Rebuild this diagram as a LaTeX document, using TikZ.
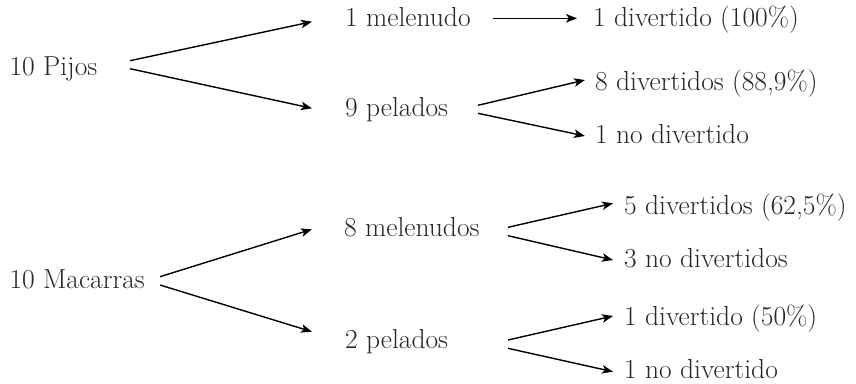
\documentclass[tikz,border=0pt]{standalone}
\usepackage{fontspec}
\usetikzlibrary{arrows.meta,calc}
\begin{document}
\begin{tikzpicture}[x=1pt,y=-1pt,
  lbl/.style={anchor=base west,inner sep=0pt,font=\fontsize{27.5}{32}\selectfont,text=black!85},
  arr/.style={line width=1.4pt,-{Stealth[length=11pt,width=8.5pt,inset=2.8pt]}}]
\useasboundingbox (0,0) rectangle (856,383);
% nodes
\node[lbl] (pijos) at (9.3,75) {10 Pijos};
\node[lbl] (mel1) at (345,26) {1 melenudo};
\node[lbl] (pel9) at (345,116.7) {9 pelados};
\node[lbl] (div1) at (593,26) {1 divertido (100\%)};
\node[lbl] (div8) at (595,90.7) {8 divertidos (88,9\%)};
\node[lbl] (nodiv1) at (595,143.3) {1 no divertido};
\node[lbl] (mac) at (9.3,288.3) {10 Macarras};
\node[lbl] (mel8) at (344,236) {8 melenudos};
\node[lbl] (pel2) at (345,348.3) {2 pelados};
\node[lbl] (div5) at (624,214) {5 divertidos (62,5\%)};
\node[lbl] (nodiv3) at (624,267.3) {3 no divertidos};
\node[lbl] (div1b) at (624,325) {1 divertido (50\%)};
\node[lbl] (nodiv1b) at (624,378.3) {1 no divertido};
% connectors
\draw[arr] ($(pijos.base west)+(120.7,-14.3)$) -- ($(mel1.base west)+(-33,-4.3)$);
\draw[arr] ($(pijos.base west)+(120.7,-6.3)$) -- ($(pel9.base west)+(-33,-8.4)$);
\draw[arr] ($(mel1.base west)+(148,-7.7)$) -- ($(div1.base west)+(-16,-7.7)$);
\draw[arr] ($(pel9.base west)+(133,-11.4)$) -- ($(div8.base west)+(-10,-10.7)$);
\draw[arr] ($(pel9.base west)+(133,-3.4)$) -- ($(nodiv1.base west)+(-10,-7.3)$);
\draw[arr] ($(mac.base west)+(150.7,-11.6)$) -- ($(mel8.base west)+(-32,-6.7)$);
\draw[arr] ($(mac.base west)+(150.7,-3.3)$) -- ($(pel2.base west)+(-33,-16.6)$);
\draw[arr] ($(mel8.base west)+(164,-8.7)$) -- ($(div5.base west)+(-11,-10.7)$);
\draw[arr] ($(mel8.base west)+(164,-0.3)$) -- ($(nodiv3.base west)+(-11,-7.3)$);
\draw[arr] ($(pel2.base west)+(163,-8.3)$) -- ($(div1b.base west)+(-11,-9)$);
\draw[arr] ($(pel2.base west)+(163,0)$) -- ($(nodiv1b.base west)+(-11,-6.6)$);
\end{tikzpicture}
\end{document}
